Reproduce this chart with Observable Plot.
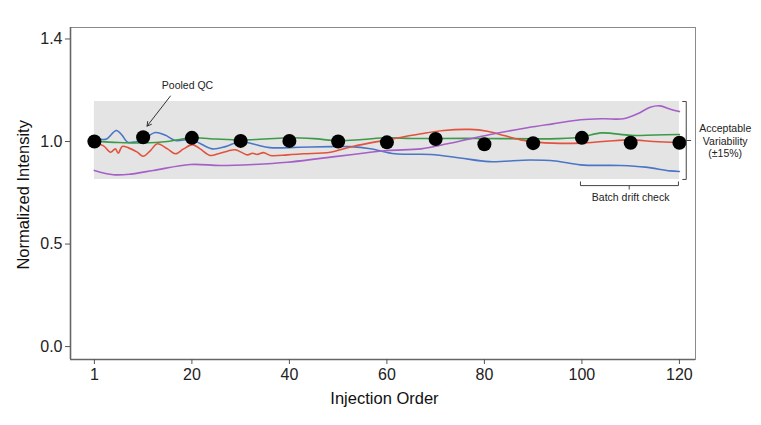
<!DOCTYPE html>
<html><head><meta charset="utf-8">
<script src="https://cdn.jsdelivr.net/npm/d3@7"></script>
<script src="https://cdn.jsdelivr.net/npm/@observablehq/plot@0.6"></script>
<style>body{margin:0;background:#fff;font-family:"Liberation Sans",Arial,sans-serif}</style>
</head><body><div id="chart"></div>
<script>
// QC injections (first QC shown at the "1" tick)
const qcOrder = [0,10,20,30,40,50,60,70,80,90,100,110,120];
const qcValue = [1.0,1.021,1.018,1.003,1.003,1.0,0.996,1.012,0.987,0.992,1.018,0.994,0.994];

const blueX = [0,1.2,2.5,4.5,5.7,6.8,8.4,10,12.5,14.6,16.6,20,21.7,24.2,26.9,30,33,36,42,48.4,52.5,56.6,61.7,69,75,81,89.4,94.6,99.7,108,113,118,120];
const blueY = [1.005,1.01,1.012,1.054,1.03,0.997,0.998,1.01,1.044,1.03,1.005,1.01,0.99,0.964,0.975,1.0,0.985,0.97,0.972,0.975,0.975,0.965,0.94,0.937,0.92,0.902,0.91,0.905,0.886,0.883,0.875,0.857,0.854];

const greenX = [0,5,10,15,20,25,30,35,40,45,50,55,60,65,70,80,90,95,100,104,110,115,120];
const greenY = [1.002,0.995,0.993,1.0,1.018,1.012,1.008,1.012,1.018,1.014,1.004,1.01,1.018,1.015,1.015,1.015,1.013,1.014,1.022,1.042,1.03,1.032,1.034];

const redX = [0,1.8,3.3,4.3,4.9,5.7,7,8.8,10,11.5,12.9,15,16.6,18.3,20.1,21.7,23.8,25.4,27.3,28.9,31.4,32.4,33.4,34.7,36.1,39.6,42.9,48.4,53,60,67,71.6,77,80.6,84,87.4,90.8,94,99.7,105,110,114.7,120];
const redY = [0.989,0.98,0.948,0.964,0.943,0.976,0.969,0.948,0.928,0.956,0.989,0.964,0.94,0.964,0.985,0.964,0.932,0.94,0.953,0.96,0.935,0.943,0.937,0.946,0.932,0.935,0.94,0.948,0.976,1.008,1.038,1.054,1.059,1.05,1.029,1.008,0.997,0.992,0.992,1.001,1.008,1.0,0.995];

const purpleX = [0,3.9,7.4,12.1,19.7,25.8,32.6,39.6,46.4,53,60,67,72.4,77,82,88.8,94,99.7,104.4,108.5,111.4,114,116,118,120];
const purpleY = [0.859,0.838,0.841,0.859,0.888,0.883,0.888,0.899,0.918,0.937,0.956,0.964,0.989,1.013,1.038,1.067,1.086,1.106,1.111,1.111,1.135,1.167,1.174,1.159,1.146];

const bandLow = 0.815, bandHigh = 1.195;
const xTicks = [0,20,40,60,80,100,120];
const xTickLabels = ["1","20","40","60","80","100","120"];
const yTicks = [0,0.5,1.0,1.5];
const yTickLabels = ["0.0","0.5","1.0","1.4"];

const series = [
  {name:"Metabolite A", color:"#4b76c6", x:blueX, y:blueY},
  {name:"Metabolite B", color:"#3c9a48", x:greenX, y:greenY},
  {name:"Metabolite C", color:"#e2523d", x:redX, y:redY},
  {name:"Metabolite D", color:"#a55fc6", x:purpleX, y:purpleY}
];
const lineData = series.flatMap(s => s.x.map((x,i) => ({x, y:s.y[i], name:s.name})));
const qc = qcOrder.map((x,i) => ({x, y:qcValue[i]}));

const annoFont = 10.5;
const fmtX = d => xTickLabels[xTicks.indexOf(d)];
const fmtY = d => yTickLabels[yTicks.indexOf(d)];
const chart = Plot.plot({
  width: 761, height: 425,
  marginLeft: 70, marginRight: 66, marginTop: 27, marginBottom: 66,
  style: {fontFamily: "'Liberation Sans', Arial, sans-serif", fontSize: "16px", color: "#222", background: "#fff"},
  x: {domain: [-4.9, 123.3], label: null},
  y: {domain: [-0.063, 1.556], label: null},
  color: {domain: series.map(s => s.name), range: series.map(s => s.color)},
  marks: [
    Plot.rect([{x1:0, x2:120, y1:bandLow, y2:bandHigh}], {x1:"x1", x2:"x2", y1:"y1", y2:"y2", fill:"#e4e4e4"}),
    Plot.frame({stroke:"#8a8a8a", strokeWidth:1}),
    Plot.ruleX([-4.9], {stroke:"#666", strokeWidth:1.6}),
    Plot.ruleY([-0.063], {stroke:"#666", strokeWidth:1.6}),
    Plot.line(lineData, {x:"x", y:"y", z:"name", stroke:"name", strokeWidth:1.6, curve:"catmull-rom"}),
    Plot.dot(qc, {x:"x", y:"y", r:7, fill:"#000"}),
    // Pooled QC annotation
    Plot.text([{x:19.1, y:1.273, t:"Pooled QC"}], {x:"x", y:"y", text:"t", fontSize:annoFont, fill:"#222"}),
    Plot.arrow([{x1:15.6, y1:1.222, x2:10.8, y2:1.075}], {x1:"x1", y1:"y1", x2:"x2", y2:"y2", stroke:"#333", strokeWidth:1, headLength:7, bend:0}),
    // Acceptable variability bracket
    Plot.link([{x1:120.6,y1:bandHigh,x2:121.4,y2:bandHigh},{x1:121.4,y1:bandHigh,x2:121.4,y2:bandLow},{x1:120.6,y1:bandLow,x2:121.4,y2:bandLow},{x1:121.4,y1:1.005,x2:122.4,y2:1.005}],
      {x1:"x1", y1:"y1", x2:"x2", y2:"y2", stroke:"#444", strokeWidth:1}),
    Plot.text([{x:129.4, y:1.005, t:"Acceptable\nVariability\n(±15%)"}], {x:"x", y:"y", text:"t", fontSize:annoFont, fill:"#222", lineHeight:1.2}),
    // Batch drift check bracket
    Plot.link([{x1:99.7,y1:0.785,x2:119.8,y2:0.785},{x1:99.7,y1:0.785,x2:99.7,y2:0.805},{x1:119.8,y1:0.785,x2:119.8,y2:0.805},{x1:109.7,y1:0.785,x2:109.7,y2:0.766}],
      {x1:"x1", y1:"y1", x2:"x2", y2:"y2", stroke:"#444", strokeWidth:1}),
    Plot.text([{x:110, y:0.726, t:"Batch drift check"}], {x:"x", y:"y", text:"t", fontSize:annoFont, fill:"#222"}),
    // axes
    Plot.axisX({ticks:xTicks, tickFormat: fmtX, tickSize:5, tickPadding:4, label:null, fontSize:16, stroke:"#555"}),
    Plot.axisY({ticks:yTicks, tickFormat: fmtY, tickSize:5, tickPadding:3, label:null, fontSize:16, stroke:"#555"}),
    Plot.text([{x:59.5, y:-0.255, t:"Injection Order"}], {x:"x", y:"y", text:"t", fontSize:16.5, fill:"#111"}),
    Plot.text([{x:-14.4, y:0.74, t:"Normalized Intensity"}], {x:"x", y:"y", text:"t", fontSize:16.5, fill:"#111", rotate:-90})
  ]
});
document.getElementById("chart").appendChild(chart);
</script></body></html>
